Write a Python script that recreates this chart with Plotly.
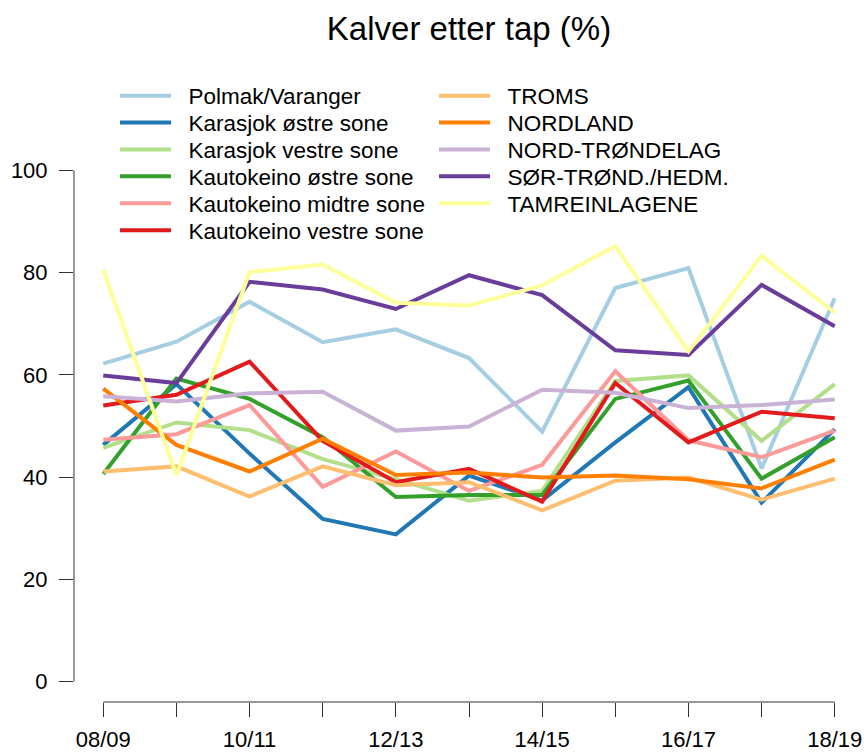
import plotly.graph_objects as go

# --- data ---
seasons = ["08/09", "09/10", "10/11", "11/12", "12/13", "13/14",
           "14/15", "15/16", "16/17", "17/18", "18/19"]
season_labels = [s if i % 2 == 0 else "" for i, s in enumerate(seasons)]

polmak = [62.2, 66.5, 74.3, 66.4, 68.9, 63.3, 48.9, 77.0, 80.9, 41.7, 75.0]
karasjok_ost = [46.3, 58.2, 44.6, 31.8, 28.8, 40.3, 35.4, 46.8, 57.6, 35.0, 49.4]
karasjok_vest = [45.7, 50.7, 49.2, 43.5, 39.6, 35.4, 37.3, 58.8, 59.9, 47.1, 58.2]
kautokeino_ost = [40.6, 59.3, 55.3, 47.8, 36.1, 36.5, 36.5, 55.3, 58.9, 39.7, 47.8]
kautokeino_midt = [47.3, 48.4, 54.1, 38.1, 45.0, 37.3, 42.4, 60.7, 47.2, 43.9, 49.1]
kautokeino_vest = [54.0, 56.1, 62.6, 47.1, 39.0, 41.6, 35.2, 58.4, 46.8, 52.8, 51.5]
troms = [41.1, 42.1, 36.2, 42.1, 38.4, 39.0, 33.5, 39.3, 39.9, 35.6, 39.7]
nordland = [57.3, 46.3, 41.1, 47.5, 40.4, 40.9, 39.9, 40.3, 39.6, 37.8, 43.4]
nord_trondelag = [55.8, 54.8, 56.4, 56.7, 49.1, 49.9, 57.1, 56.5, 53.5, 54.1, 55.2]
sor_trond = [59.9, 58.4, 78.2, 76.7, 72.9, 79.5, 75.6, 64.8, 63.9, 77.6, 69.5]
tamrein = [80.5, 40.4, 80.1, 81.6, 74.1, 73.6, 77.5, 85.2, 64.6, 83.3, 72.2]

names = ["Polmak/Varanger", "Karasjok østre sone", "Karasjok vestre sone",
         "Kautokeino østre sone", "Kautokeino midtre sone", "Kautokeino vestre sone",
         "TROMS", "NORDLAND", "NORD-TRØNDELAG", "SØR-TRØND./HEDM.", "TAMREINLAGENE"]
values = [polmak, karasjok_ost, karasjok_vest, kautokeino_ost, kautokeino_midt,
          kautokeino_vest, troms, nordland, nord_trondelag, sor_trond, tamrein]
colors = ["#A6CEE3", "#1F78B4", "#B2DF8A", "#33A02C", "#FB9A99", "#E31A1C",
          "#FDBF6F", "#FF7F00", "#CAB2D6", "#6A3D9A", "#FFFF99"]

FONT = "Liberation Sans, Arial, sans-serif"
AX = "#333333"
W, H = 864, 753
L, T, B = 74, 150, 51
plot_w, plot_h = W - L, H - T - B

fig = go.Figure()
legends = {}
for i, (name, vals, col) in enumerate(zip(names, values, colors)):
    leg = "legend" if i == 0 else f"legend{i + 1}"
    fig.add_trace(go.Scatter(x=seasons, y=vals, name="\u00a0\u00a0" + name, mode="lines",
                             line=dict(color=col, width=4), legend=leg))
    # two columns of legend rows, R style (one single-entry legend per row)
    col_i, row_i = (0, i) if i < 6 else (1, i - 6)
    px_x = 115 if col_i == 0 else 434
    px_y = 96 + 26.9 * row_i
    legends[leg] = dict(x=(px_x - L) / plot_w, y=(H - B - px_y) / plot_h,
                        xanchor="left", yanchor="middle", bgcolor="rgba(0,0,0,0)",
                        borderwidth=0, itemwidth=51,
                        font=dict(family=FONT, size=22.5, color="black"))

# R-style detached axis lines
fig.add_shape(type="line", xref="paper", yref="y", x0=0, x1=0, y0=0, y1=100,
              line=dict(color=AX, width=1))
fig.add_shape(type="line", xref="x", yref="paper", x0=0, x1=10, y0=0, y1=0,
              line=dict(color=AX, width=1))

fig.update_layout(
    width=W, height=H,
    margin=dict(l=L, r=0, t=T, b=B, pad=0),
    plot_bgcolor="white", paper_bgcolor="white",
    font=dict(family=FONT, size=22, color="black"),
    title=dict(text="Kalver etter tap (%)", x=0.5, xref="paper", xanchor="center",
               y=1 - 28 / H, yanchor="middle",
               font=dict(family=FONT, size=33, color="black")),
    xaxis=dict(type="category", range=[-0.4, 10.4], showgrid=False, zeroline=False,
               showline=False, ticks="outside", ticklen=14, tickwidth=1, tickcolor=AX,
               tickmode="array", tickvals=seasons, ticktext=season_labels,
               ticklabelstandoff=4,
               tickfont=dict(family=FONT, size=22, color="black"), automargin=False),
    yaxis=dict(range=[-4, 104], showgrid=False, zeroline=False, showline=False,
               ticks="outside", ticklen=14, tickwidth=1, tickcolor=AX,
               tickmode="array", tickvals=[0, 20, 40, 60, 80, 100],
               ticklabelstandoff=7,
               tickfont=dict(family=FONT, size=22, color="black"), automargin=False),
    showlegend=True,
    **legends,
)

fig.write_html("out.html", config={"displayModeBar": False},
               post_script="document.body.style.margin='0px';")
